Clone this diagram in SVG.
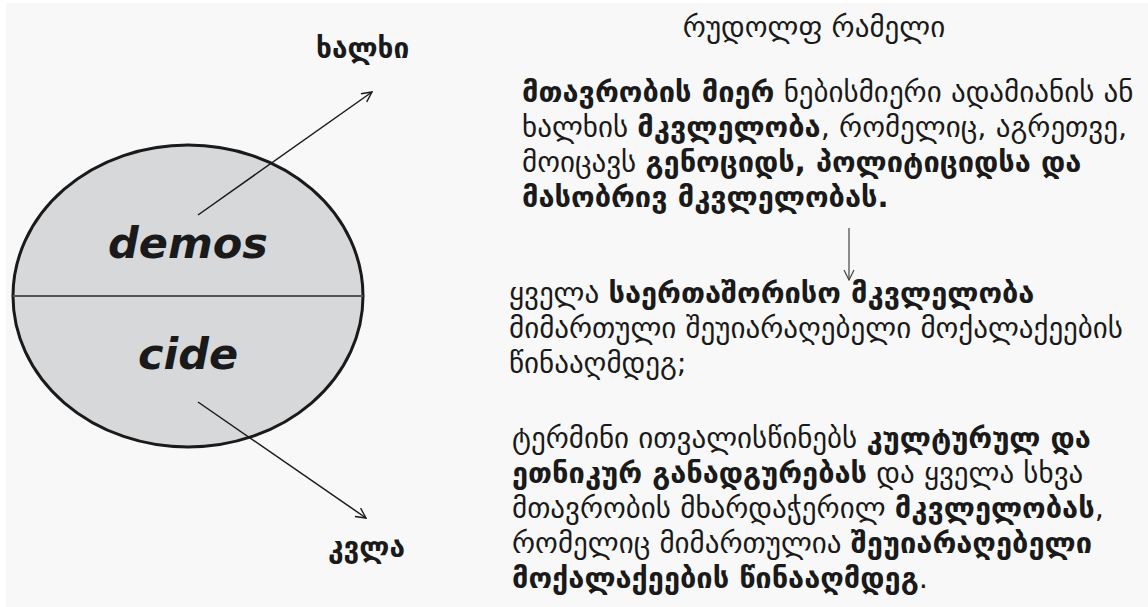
<svg xmlns="http://www.w3.org/2000/svg" width="1148" height="607" viewBox="0 0 1148 607">
<defs>
<marker id="ah" viewBox="0 0 12 12" refX="11" refY="6" markerWidth="12" markerHeight="12" markerUnits="userSpaceOnUse" orient="auto">
<path d="M1,1 L11,6 L1,11" fill="none" stroke="#1a1a1a" stroke-width="1.4"/>
</marker>
<marker id="ah2" viewBox="0 0 12 12" refX="11" refY="6" markerWidth="12" markerHeight="12" markerUnits="userSpaceOnUse" orient="auto">
<path d="M1,1 L11,6 L1,11" fill="none" stroke="#444" stroke-width="1.2"/>
</marker>
</defs>
<style>
.ge{font-family:"DejaVu Sans",sans-serif;fill:#1a1a1a;}
.p{font-size:29px;}
.b{font-weight:bold;}
.lbl{font-size:28px;font-weight:bold;}
.big{font-family:"DejaVu Sans",Verdana,sans-serif;font-size:43px;font-weight:bold;font-style:italic;fill:#1a1a1a;}
.conn{stroke:#1a1a1a;stroke-width:1.5;fill:none;}
</style>
<rect width="1148" height="607" fill="#ffffff"/>
<rect x="6" y="3" width="1142" height="604" fill="#f8f8f8"/>
<g id="circle">
<ellipse cx="188" cy="296" rx="175" ry="151" fill="#d7d8da" stroke="#1a1a1a" stroke-width="3"/>
<line x1="13" y1="296" x2="363" y2="296" stroke="#555" stroke-width="2"/>
<text class="big" x="188" y="258" text-anchor="middle">demos</text>
<text class="big" x="188" y="369" text-anchor="middle">cide</text>
</g>
<g id="label-top"><text class="ge lbl" x="316" y="58">ხალხი</text></g>
<g id="label-bottom"><text class="ge lbl" x="328" y="557">კვლა</text></g>
<g id="title"><text class="ge" x="814" y="37" font-size="29" text-anchor="middle">რუდოლფ რამელი</text></g>
<g id="para1" class="ge p">
<text x="522" y="102"><tspan class="b">მთავრობის მიერ</tspan> ნებისმიერი ადამიანის ან</text>
<text x="522" y="137">ხალხის <tspan class="b">მკვლელობა</tspan>, რომელიც, აგრეთვე,</text>
<text x="522" y="172">მოიცავს <tspan class="b">გენოციდს, პოლიტიციდსა და</tspan></text>
<text x="522" y="207"><tspan class="b">მასობრივ მკვლელობას.</tspan></text>
</g>
<g id="para2" class="ge p">
<text x="509" y="303">ყველა <tspan class="b">საერთაშორისო მკვლელობა</tspan></text>
<text x="509" y="338">მიმართული შეუიარაღებელი მოქალაქეების</text>
<text x="509" y="373">წინააღმდეგ;</text>
</g>
<g id="para3" class="ge p">
<text x="512" y="448">ტერმინი ითვალისწინებს <tspan class="b">კულტურულ და</tspan></text>
<text x="512" y="483"><tspan class="b">ეთნიკურ განადგურებას</tspan> და ყველა სხვა</text>
<text x="512" y="518">მთავრობის მხარდაჭერილ <tspan class="b">მკვლელობას</tspan>,</text>
<text x="512" y="553">რომელიც მიმართულია <tspan class="b">შეუიარაღებელი</tspan></text>
<text x="512" y="588"><tspan class="b">მოქალაქეების წინააღმდეგ</tspan>.</text>
</g>
<g id="connectors">
<line class="conn" x1="198" y1="215" x2="372" y2="92" marker-end="url(#ah)"/>
<line class="conn" x1="198" y1="402" x2="366" y2="518" marker-end="url(#ah)"/>
<line x1="849" y1="228" x2="849" y2="280" stroke="#444" stroke-width="1.2" marker-end="url(#ah2)"/>
</g>
</svg>
